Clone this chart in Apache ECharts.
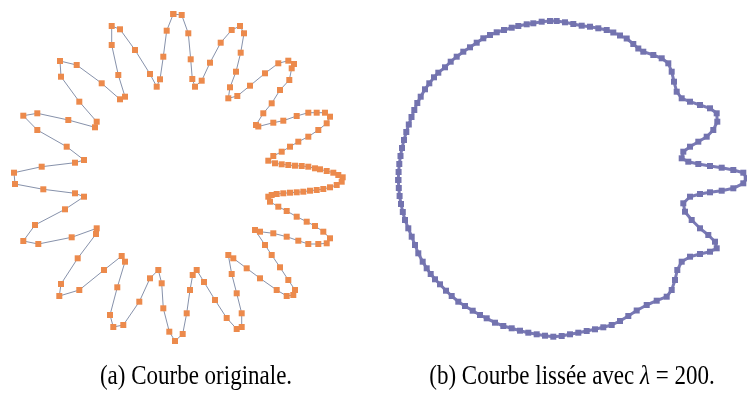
<!DOCTYPE html>
<html><head><meta charset="utf-8">
<script src="https://cdn.jsdelivr.net/npm/echarts@6/dist/echarts.min.js"></script>
<style>html,body{margin:0;padding:0;background:#fff}#c{width:747px;height:408px}</style>
</head><body><div id="c"></div>
<script>
// Original curve (a): point positions (pixel units, y downward)
const leftX = [173.3,181.7,188.3,190.7,192.3,195,
201.7,210,220.7,231.7,240,244,240.7,236,230,228.3,
237.3,250,265,278.3,288.3,294,291.7,289.3,280,271.7,263.3,256,258.3,
273.3,283.3,296.7,308.3,316.7,325,330,326.7,318.3,308.3,298.3,290,281.7,273.3,268.3,
275,281.7,288.3,295,301.7,308.3,315,320,326.7,333.3,338.3,342.7,341.7,336.7,330,323.3,316.7,310,303.3,296.7,290,283.3,276.7,271.7,268.3,
270,278.3,286.7,296.7,306.7,315,323.3,330,326.7,318.3,308.3,298.3,286.7,273.3,260,255,
265,271.7,280,288.3,295,293.3,286.7,276.7,260,246.7,233.3,228.3,
231.7,236.7,241.7,241.7,236.7,226.7,215,204,196.7,
192.7,190,186.7,182.7,175,169.3,163.3,161.7,158.3,
150,139.3,123.3,113.3,110,117.3,125,121.7,
104,79.3,59.3,61,77.7,96,96.7,
71.7,38.3,23.3,35,65,84,
75,43.3,15,14,41.7,75,84,
66.7,37.3,23.3,37.3,68.3,95,96.7,
79.3,61,60,76.7,101.7,120,125,
118.3,111.7,111.7,120,135,150,156.7,
160,163.3,166.7,173.3];
const leftY = [14,15,33.3,59.3,79,86.7,
80.7,62.7,42.7,30,26,33.3,52.7,71.7,87.3,98.3,
96,85.7,73.3,63.3,60.7,64,68.3,80,90,103.3,113.3,125,126.5,
122.7,120.7,116,112.7,112.7,112.7,116.7,123.3,130,136.7,141.7,146.7,151.7,156,160.7,
163.3,164.3,165,165.7,166,166.7,168.3,169.3,171,172.7,175,177.3,181.7,185,187.3,189,190,190.7,191.7,192.3,192.7,193.3,194,195,196.7,
201.7,206.7,211,216.7,221.7,226,231.7,238.3,243.3,244,244,240.7,236.7,233.3,231.7,230,
245,255,267.3,280,290,295,296,290,278.3,268.3,258.3,255,
274,293.3,313.3,327,329,318,300,282,270,
275,290,313.3,334,341,331.7,308.3,283.3,270,
278.3,301.7,325,327,315,287.3,261.7,256,
270,290,296,284,258.3,234,228.3,
237.3,244,241,225,209.3,196.7,
193.3,189.3,184,172.7,166.7,162.7,160,
146.7,130,115.7,113.3,120,127.3,121.7,
101.7,76.7,61,65,83.3,99.3,96.7,
75,45,26,29.3,50,74,86.7,
79.3,56.7,30.7,14];

// Smoothed curve (b), lambda = 200
const rightX = [398.3,398.6,399.3,400.5,402,404,406.3,408.8,411.5,414.3,417.3,420.7,425,429.3,434,438.3,445,450.7,456.7,463.3,470,476.7,483.3,490,496.7,504,511.7,518.3,526.7,533.3,541.7,550,556.7,565,573.3,581.7,590,598.3,606.7,613.3,620,626.7,633.3,638.3,643.3,653.3,661.7,668.3,671.7,674,676.7,681.7,690,700,710,716.7,717.3,713.3,706.7,698.3,690,683.3,681.7,688.3,698.3,710,721.7,733.3,743.3,746.7,743.3,733.3,721.7,710,700,690,683.3,685,691.7,700,708.3,715,716.7,710,700,690,681.7,677.3,675,671.7,666.7,656.7,646.7,636.7,628.3,620,611.7,603.3,595,586.7,578.3,570,561.7,553.3,545,536.7,528.3,520,511.7,503.3,495,486.7,480,472.7,465,458.3,451.7,446,440,435,430.7,426.7,422.7,418.3,415,411.7,408.3,405,402.8,401,399.6,398.8,398.3];
const rightY = [180,172,164,156,148,140,132,124.5,117,110,103,96.7,89.3,83.3,77.3,72.7,67.3,61.7,56.7,51.7,47.3,42.7,38.3,35,32.3,30,27.7,26,24.3,23.3,21.7,21,21,22.3,24,25.7,26.7,28.3,30,32.5,35.5,38.5,44,48.5,51.7,55,58.3,63.3,71.7,81.7,91.7,98.3,101.7,105,108.3,113.3,121.7,130,136.7,141.7,146.7,151.7,158.3,161.7,164,166,167.7,170,172.7,178.3,183.3,188.3,190.7,192.3,194,196.7,203.3,211.7,220,228.3,235,241.7,248.3,251.7,254,256.7,261.7,270,280,290,296.7,300.7,305,310.5,316,321,325,327.3,329.3,331,332.7,334.3,336,336.7,335.7,334.3,332.7,330.7,328.3,326,322.7,318.3,315,310.7,306,301.7,296,290.7,284.3,279.3,274,268.3,261.7,253.3,245,236.7,228.3,220,212,204,196,188,180];

const captionA = '(a) Courbe originale.';
const captionB = ['(b) Courbe lissée avec ', 'λ', ' = 200.'];

const pts = (xs, ys) => xs.map((x, i) => [x, ys[i]]);

const chart = echarts.init(document.getElementById('c'), null, {renderer: 'canvas'});
chart.setOption({
  animation: false,
  backgroundColor: '#ffffff',
  grid: {left: 0, right: 0, top: 0, bottom: 0},
  xAxis: {type: 'value', min: 0, max: 747, show: false},
  yAxis: {type: 'value', min: 0, max: 408, inverse: true, show: false},
  series: [
    {
      type: 'line', data: pts(leftX, leftY), symbol: 'rect', symbolSize: 6,
      lineStyle: {color: '#8792ab', width: 1},
      itemStyle: {color: '#ec8a4c'}, z: 3
    },
    {
      type: 'line', data: pts(rightX, rightY), symbol: 'rect', symbolSize: 6,
      lineStyle: {color: '#7a7ab6', width: 3},
      itemStyle: {color: '#7373af'}, z: 3
    }
  ],
  graphic: [
    {type: 'text', x: 196, y: 377, scaleY: 1.15, style: {text: captionA, fill: '#000', font: '23px "Liberation Serif"', align: 'center', verticalAlign: 'middle'}},
    {type: 'text', x: 572, y: 377, scaleY: 1.15, style: {
      text: '{n|' + captionB[0] + '}{i|' + captionB[1] + '}{n|' + captionB[2] + '}',
      align: 'center', verticalAlign: 'middle',
      rich: {
        n: {fontFamily: 'Liberation Serif', fontSize: 23, fill: '#000', color: '#000'},
        i: {fontFamily: 'Liberation Serif', fontSize: 23, fontStyle: 'italic', fill: '#000', color: '#000'}
      }}}
  ]
});
</script></body></html>
